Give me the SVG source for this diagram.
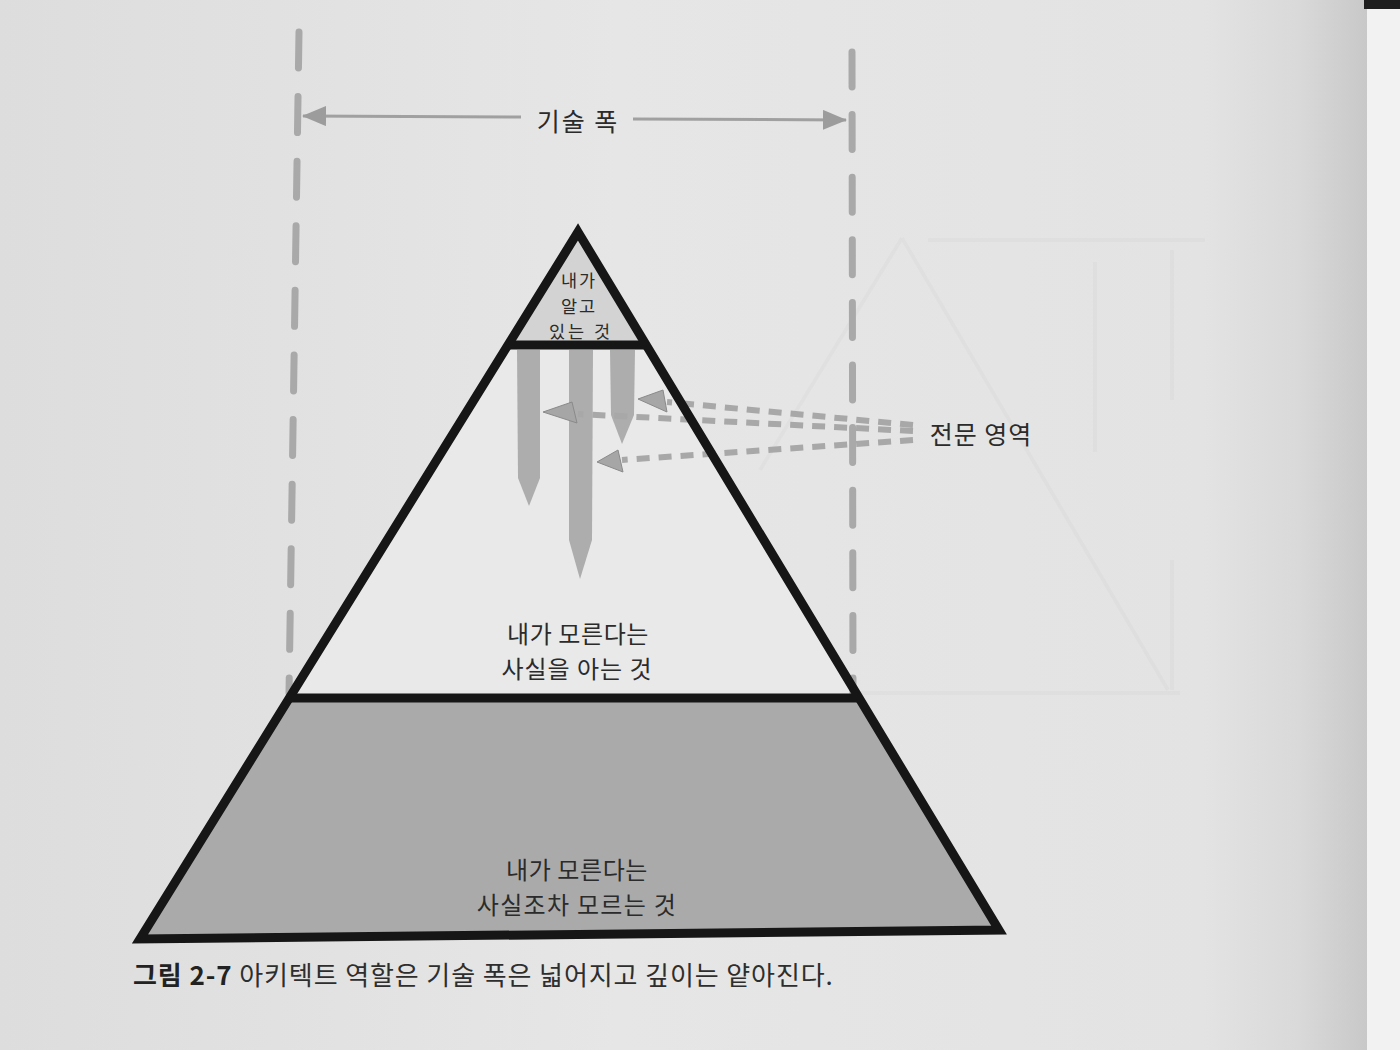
<svg xmlns="http://www.w3.org/2000/svg" width="1400" height="1050" viewBox="0 0 1400 1050">
  <defs>
    <linearGradient id="pageBg" x1="0" y1="0" x2="1368" y2="0" gradientUnits="userSpaceOnUse">
      <stop offset="0" stop-color="#dddddd"/>
      <stop offset="0.45" stop-color="#e6e6e6"/>
      <stop offset="0.88" stop-color="#e3e3e3"/>
      <stop offset="0.95" stop-color="#d9d9d9"/>
      <stop offset="1" stop-color="#c8c8c8"/>
    </linearGradient>
    <marker id="wArrow" viewBox="0 0 24 20" refX="23" refY="10" markerWidth="24" markerHeight="20" markerUnits="userSpaceOnUse" orient="auto">
      <path d="M0,0 L24,10 L0,20 Z" fill="#9c9c9c"/>
    </marker>
    <style>
      .lbl { font-family: 'Noto Sans CJK KR', 'Noto Sans', sans-serif; fill: #2b2b2b; text-anchor: middle; }
      .guide { fill: none; stroke: #a9a9a9; stroke-width: 7; stroke-linecap: round; }
      .wline { fill: none; stroke: #a0a0a0; stroke-width: 3; }
      .xdash { fill: none; stroke: #a8a8a8; stroke-width: 6; stroke-dasharray: 13 9; }
      .xhead { fill: #a6a6a6; stroke: #8a8a8a; stroke-width: 1; }
      .bar { fill: #adadad; }
      .edge { fill: none; stroke: #161616; stroke-width: 9; stroke-linejoin: miter; }
      .ghost { fill: none; stroke: #000; stroke-opacity: 0.018; stroke-width: 4; }
    </style>
  </defs>

  <!-- page -->
  <rect x="0" y="0" width="1400" height="1050" fill="url(#pageBg)"/>
  <rect x="1367" y="0" width="33" height="1050" fill="#f2f2f2"/>
  <rect x="1364" y="0" width="36" height="9" fill="#1e1e1e"/>

  <!-- faint show-through from the reverse side -->
  <g id="show-through">
    <path class="ghost" d="M902,238 L1168,690 M902,238 L760,470 M928,240 L1205,240 M860,693 L1180,693 M1095,262 L1095,452 M1172,250 L1172,400 M1172,560 L1172,690"/>
  </g>

  <!-- pyramid layers -->
  <g id="layer-bottom">
    <polygon points="289,698 859,698 999,930 140,939" fill="#aaaaaa"/>
    <text class="lbl" x="577" y="879" font-size="24" letter-spacing="0.6">내가 모른다는</text>
    <text class="lbl" x="577" y="914" font-size="24" letter-spacing="1.3">사실조차 모르는 것</text>
  </g>

  <g id="layer-middle">
    <polygon points="507,345 647,345 859,698 289,698" fill="#e9e9e9"/>
  </g>

  <g id="expertise-bars">
    <path class="bar" d="M517,350 L540,350 L540,478 L529,506 L518,478 Z"/>
    <path class="bar" d="M569,350 L593,350 L592,540 L580,579 L569,540 Z"/>
    <path class="bar" d="M610,350 L635,350 L634,415 L622,444 L611,415 Z"/>
  </g>

  <g id="layer-top">
    <polygon points="578,232 647,345 507,345" fill="#d3d3d3"/>
    <text class="lbl" x="579" y="287" font-size="17.5" letter-spacing="2">내가</text>
    <text class="lbl" x="579" y="312.5" font-size="17.5" letter-spacing="2">알고</text>
    <text class="lbl" x="581" y="338" font-size="17.5" letter-spacing="3">있는 것</text>
  </g>

  <!-- guides for technical breadth -->
  <g id="breadth-guides">
    <line class="guide" x1="299" y1="32" x2="289" y2="693" stroke-dasharray="36 28.6"/>
    <line class="guide" x1="852" y1="52" x2="853" y2="693" stroke-dasharray="35 27.6"/>
  </g>

  <g id="connectors">
    <line class="wline" x1="521" y1="117" x2="303" y2="116" marker-end="url(#wArrow)"/>
    <line class="wline" x1="633" y1="119" x2="846" y2="120" marker-end="url(#wArrow)"/>
    <line class="xdash" x1="913" y1="425" x2="667" y2="402"/>
    <line class="xdash" x1="913" y1="431" x2="578" y2="414"/>
    <line class="xdash" x1="913" y1="440" x2="622" y2="460"/>
    <polygon class="xhead" points="638,399 663,390 667,412"/>
    <polygon class="xhead" points="543,412 572,402 577,423"/>
    <polygon class="xhead" points="597,462 618,450 623,472"/>
  </g>

  <!-- pyramid outline -->
  <g id="pyramid-outline">
    <polygon class="edge" points="578,232 999,930 140,939"/>
    <line class="edge" x1="507" y1="345" x2="647" y2="345"/>
    <line class="edge" x1="289" y1="698" x2="859" y2="698"/>
  </g>

  <g id="middle-label">
    <text class="lbl" x="578" y="643" font-size="24" letter-spacing="0.6">내가 모른다는</text>
    <text class="lbl" x="577" y="678" font-size="24" letter-spacing="1">사실을 아는 것</text>
  </g>

  <g id="width-label">
    <text class="lbl" x="578" y="131" font-size="25" letter-spacing="2">기술 폭</text>
  </g>

  <g id="expertise-label">
    <text class="lbl" x="981" y="444" font-size="25" letter-spacing="1">전문 영역</text>
  </g>

  <g id="caption">
    <text x="133" y="985" font-family="'Noto Sans CJK KR', 'Noto Sans', sans-serif" font-size="26" letter-spacing="0.9" fill="#2e2e2e"><tspan font-weight="bold" fill="#222">그림 2-7</tspan> 아키텍트 역할은 기술 폭은 넓어지고 깊이는 얕아진다.</text>
  </g>
</svg>
